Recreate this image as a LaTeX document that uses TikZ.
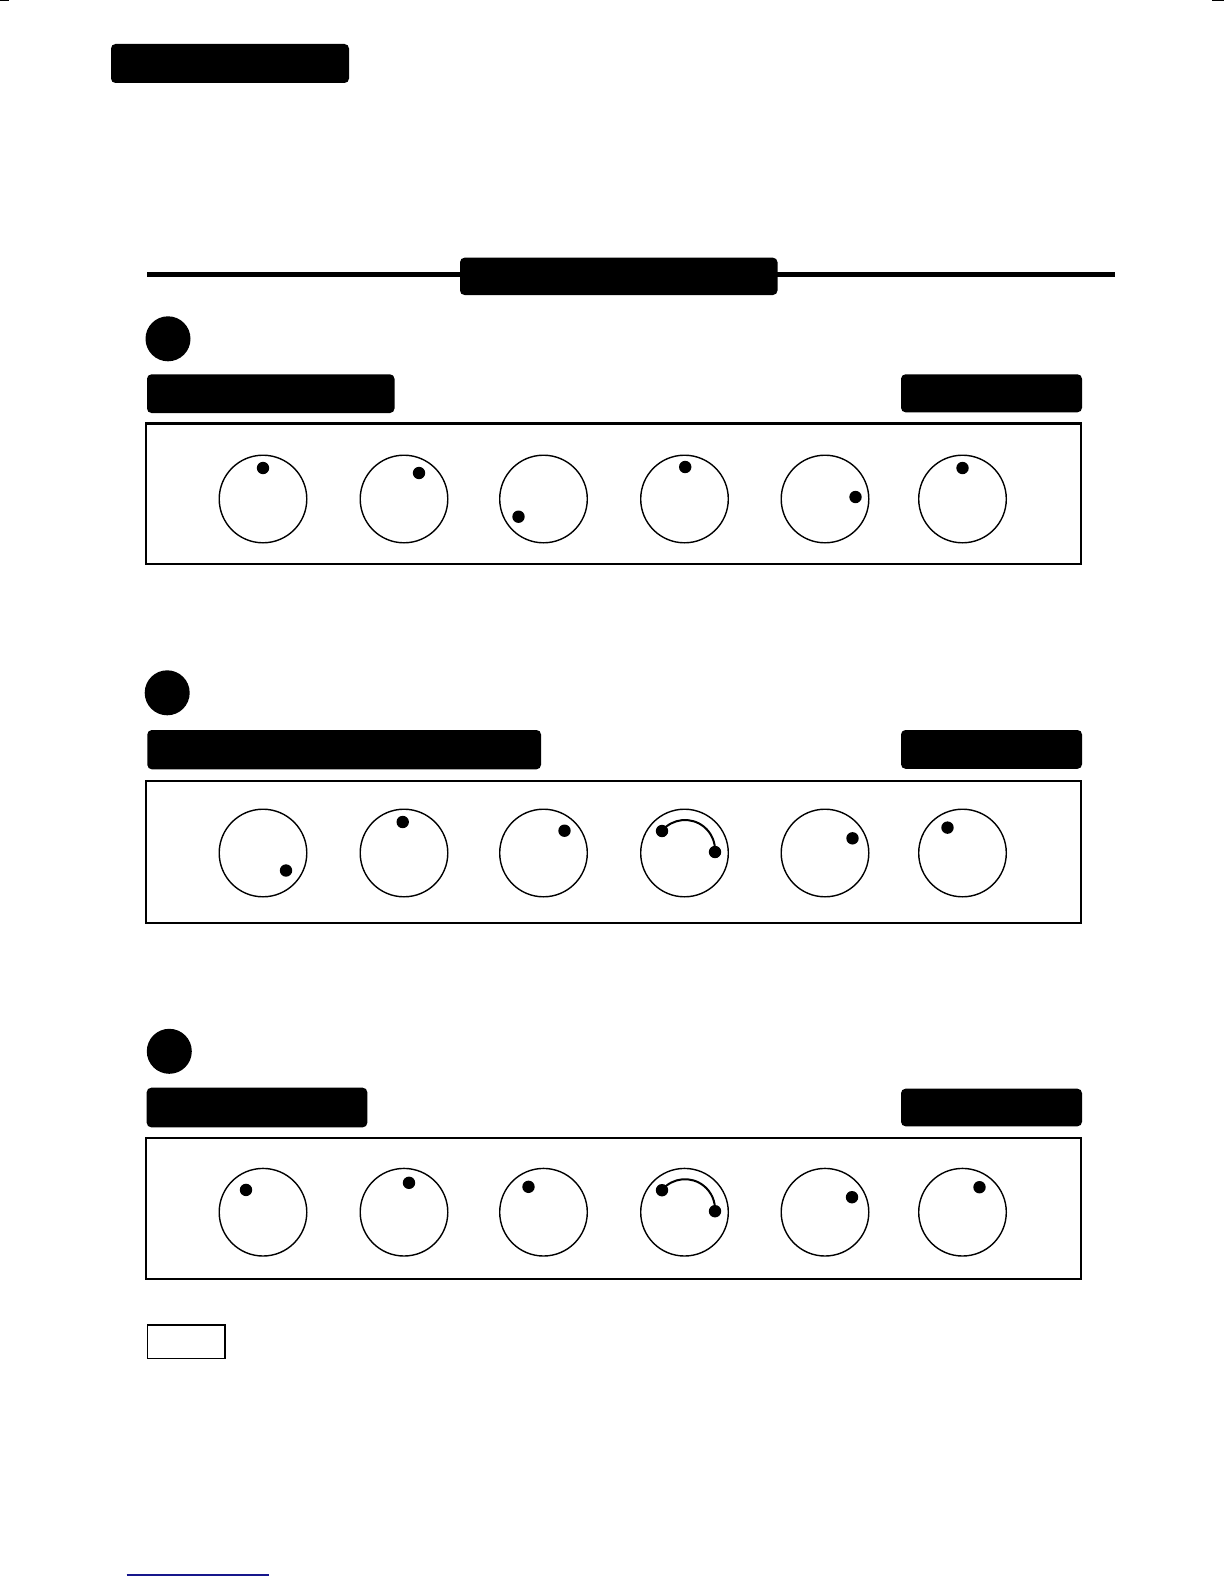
\documentclass[tikz,border=0pt]{standalone}
\definecolor{linkblue}{RGB}{22,22,140}
\tikzset{
  blackbar/.style={fill=black, rounded corners=4.5pt, inner sep=0pt, outer sep=0pt, anchor=north west},
  panel/.style={draw=black, line width=2.3pt, fill=none},
  knob/.style={circle, draw=black, line width=1.4pt, minimum size=87.6pt, inner sep=0pt, outer sep=0pt},
  kdot/.style={circle, fill=black, minimum size=12.4pt, inner sep=0pt, outer sep=0pt},
  secdot/.style={circle, fill=black, minimum size=45pt, inner sep=0pt, outer sep=0pt},
  swing/.style={line width=2pt},
  notebox/.style={draw=black, line width=1.7pt, inner sep=0pt, outer sep=0pt, anchor=north west},
}
\begin{document}
\begin{tikzpicture}[x=1pt,y=1pt]
\useasboundingbox (0,0) rectangle (1224,-1584);
\fill[white] (0,0) rectangle (1224,-1584);

% crop marks
\coordinate (cmA) at (0,-0.75);
\coordinate (cmB) at (9,-0.75);
\coordinate (cmC) at (1212,-0.75);
\coordinate (cmD) at (1224,-0.75);
\draw[line width=1.5pt] (cmA) -- (cmB);
\draw[line width=1.5pt] (cmC) -- (cmD);

% title bar
\node[blackbar, minimum width=238pt, minimum height=39pt] (title) at (111,-44) {};

% header rule with centred bar
\coordinate (ruleL) at (147,-274.5);
\coordinate (ruleR) at (1115,-274.5);
\draw[line width=5.5pt] (ruleL) -- (ruleR);
\node[blackbar, minimum width=317.5pt, minimum height=37.3pt] (header) at (460,-257.7) {};

% section markers
\node[secdot] (s1) at (168,-338.8) {};
\node[secdot] (s2) at (167.2,-692.8) {};
\node[secdot] (s3) at (169.3,-1051.3) {};

% label bars
\node[blackbar, minimum width=247.5pt, minimum height=38.7pt] (l1) at (147,-374.3) {};
\node[blackbar, minimum width=181pt, minimum height=38pt] (r1) at (901,-374.3) {};
\node[blackbar, minimum width=393.7pt, minimum height=39.3pt] (l2) at (147.3,-730) {};
\node[blackbar, minimum width=181pt, minimum height=38.8pt] (r2) at (901,-730) {};
\node[blackbar, minimum width=220.6pt, minimum height=39.6pt] (l3) at (146.7,-1087.7) {};
\node[blackbar, minimum width=181pt, minimum height=37.6pt] (r3) at (901,-1088.7) {};

% panels
\draw[panel] (146.2,-423.5) rectangle (1081,-564);
\draw[panel] (146.2,-781) rectangle (1081,-923);
\draw[panel] (146.2,-1138) rectangle (1081,-1279);

% knobs
\foreach \r/\y in {1/499, 2/853, 3/1212.2}{
  \foreach \c/\x in {1/263, 2/404, 3/543.5, 4/684.5, 5/825, 6/962.5}{
    \node[knob] (k\r\c) at (\x,-\y) {};
  }
}

% row 1 dots
\node[kdot] (d11) at ([shift={(0,31)}]k11.center) {};
\node[kdot] (d12) at ([shift={(15,26)}]k12.center) {};
\node[kdot] (d13) at ([shift={(-25,-17.7)}]k13.center) {};
\node[kdot] (d14) at ([shift={(0.7,32)}]k14.center) {};
\node[kdot] (d15) at ([shift={(30.5,2)}]k15.center) {};
\node[kdot] (d16) at ([shift={(0,31)}]k16.center) {};

% row 2 dots
\node[kdot] (d21) at ([shift={(23,-17.5)}]k21.center) {};
\node[kdot] (d22) at ([shift={(-1.3,31)}]k22.center) {};
\node[kdot] (d23) at ([shift={(21,22.3)}]k23.center) {};
\node[kdot] (d24a) at ([shift={(-22.5,22)}]k24.center) {};
\node[kdot] (d24b) at ([shift={(30.5,1)}]k24.center) {};
\node[kdot] (d25) at ([shift={(27.5,14.7)}]k25.center) {};
\node[kdot] (d26) at ([shift={(-15,25.4)}]k26.center) {};
\draw[swing] ([shift={(0.5,3)}]k24.center) ++(140.6:30) arc[start angle=140.6, end angle=-3.9, radius=30];

% row 3 dots
\node[kdot] (d31) at ([shift={(-17,22.3)}]k31.center) {};
\node[kdot] (d32) at ([shift={(5,29.4)}]k32.center) {};
\node[kdot] (d33) at ([shift={(-15,25.4)}]k33.center) {};
\node[kdot] (d34a) at ([shift={(-22.5,22)}]k34.center) {};
\node[kdot] (d34b) at ([shift={(30.5,1)}]k34.center) {};
\node[kdot] (d35) at ([shift={(27,15)}]k35.center) {};
\node[kdot] (d36) at ([shift={(17,25)}]k36.center) {};
\draw[swing] ([shift={(0.5,3)}]k34.center) ++(140.6:30) arc[start angle=140.6, end angle=-3.9, radius=30];

% small note box
\node[notebox, minimum width=77.5pt, minimum height=33.5pt] (note) at (147.5,-1325) {};

% link underline
\coordinate (lnA) at (126.7,-1575);
\coordinate (lnB) at (269,-1575);
\draw[linkblue, line width=1.4pt] (lnA) -- (lnB);
\end{tikzpicture}
\end{document}
